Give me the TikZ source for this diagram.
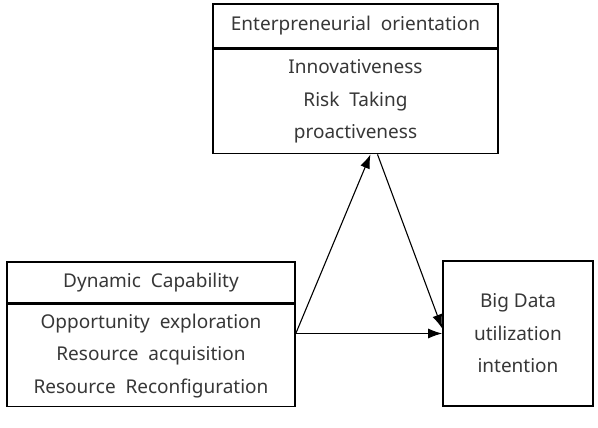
\documentclass[tikz,border=0pt]{standalone}
\usepackage{fontspec}
\setmainfont{Noto Sans}
\usetikzlibrary{positioning,arrows.meta}
\definecolor{txtgray}{RGB}{55,55,55}
\tikzset{
	box/.style={draw, line width=1.6pt, fill=white, text=txtgray, align=center, inner sep=0pt,
		font=\fontsize{19}{32.5}\selectfont},
	link/.style={line width=1.1pt, -{Latex[length=14pt,width=10pt]}}
}
\begin{document}
\begin{tikzpicture}[x=1pt,y=-1pt]
			\useasboundingbox (0,0) rectangle (598,428);
			% entrepreneurial orientation
			\node[box, minimum width=285, minimum height=44] (eoHead) at (355.5,26) {Enterpreneurial~~orientation};
			\node[box, minimum width=285, minimum height=104, below=0pt of eoHead] (eoBody) {Innovativeness\\ Risk~~Taking\\ proactiveness};
			% dynamic capability
			\node[box, minimum width=288, minimum height=41] (dcHead) at (151,282.5) {Dynamic~~Capability};
			\node[box, minimum width=288, minimum height=102, below=0pt of dcHead] (dcBody) {Opportunity~~exploration\\ Resource~~acquisition\\ Resource~~Reconfiguration};
			% big data
			\node[box, minimum width=150, minimum height=145] (bdBox) at (518,333.5) {Big Data\\ utilization\\ intention};
			\draw[link] (dcBody.east |- bdBox.west) -- ([xshift=15pt]eoBody.south);
			\draw[link] ([xshift=22pt]eoBody.south) -- ([yshift=5pt]bdBox.west);
			\draw[link] (dcBody.east |- bdBox.west) -- (bdBox.west);
		\end{tikzpicture}
\end{document}
